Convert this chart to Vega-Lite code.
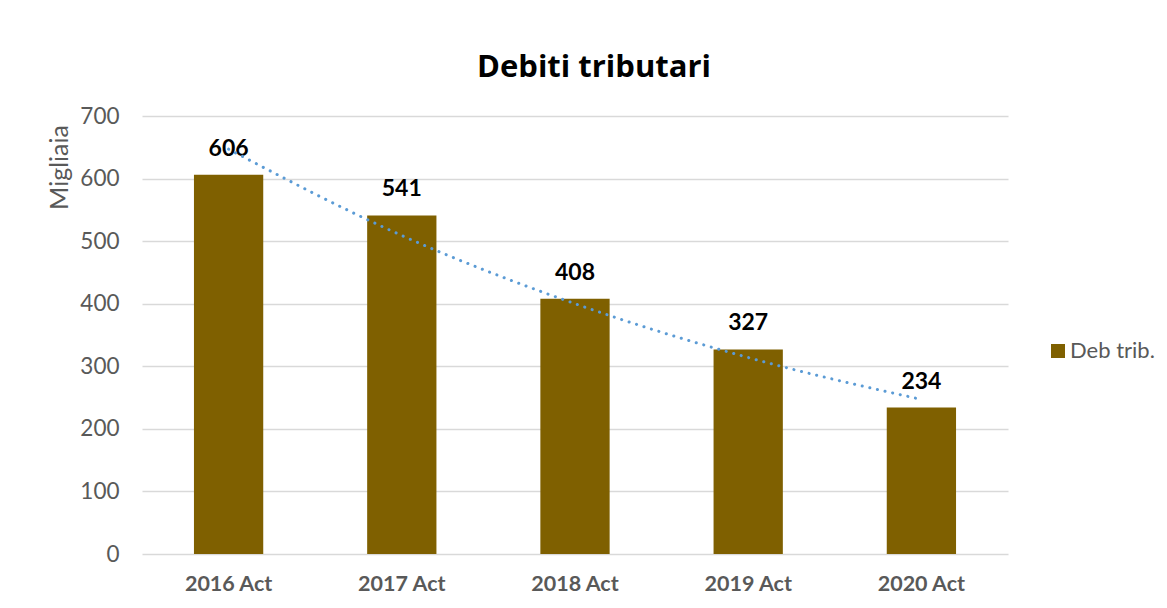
{
  "$schema": "https://vega.github.io/schema/vega-lite/v6.json",
  "width": 866,
  "height": 438,
  "autosize": "none",
  "padding": {"left": 142, "top": 116, "right": 159, "bottom": 54},
  "background": "white",
  "config": {
    "font": "Lato",
    "view": {"stroke": null}
  },
  "title": {
    "text": "Debiti tributari",
    "font": "Open Sans",
    "fontSize": 31,
    "fontWeight": "bold",
    "color": "#000000",
    "anchor": "middle",
    "frame": "group",
    "dx": 19,
    "baseline": "alphabetic",
    "offset": -3
  },
  "data": {
    "values": [
      {"anno": "2016 Act", "valore": 606, "trend": 647, "serie": "Deb trib."},
      {"anno": "2017 Act", "valore": 541, "trend": 509, "serie": "Deb trib."},
      {"anno": "2018 Act", "valore": 408, "trend": 400, "serie": "Deb trib."},
      {"anno": "2019 Act", "valore": 327, "trend": 314, "serie": "Deb trib."},
      {"anno": "2020 Act", "valore": 234, "trend": 247, "serie": "Deb trib."}
    ]
  },
  "encoding": {
    "x": {
      "field": "anno",
      "type": "nominal",
      "sort": null,
      "scale": {"paddingInner": 0.6, "paddingOuter": 0.3},
      "axis": {
        "title": null,
        "labelAngle": 0,
        "labelFontSize": 21.5,
        "labelFontWeight": "bold",
        "labelColor": "#595959",
        "labelPadding": 19,
        "ticks": false,
        "domain": false
      }
    }
  },
  "layer": [
    {
      "mark": {"type": "bar", "color": "#7F6000"},
      "encoding": {
        "y": {
          "field": "valore",
          "type": "quantitative",
          "scale": {"domain": [0, 700]},
          "axis": {
            "values": [0, 100, 200, 300, 400, 500, 600, 700],
            "title": "Migliaia",
            "titleFontSize": 25,
            "titleFontWeight": "normal",
            "titleColor": "#595959",
            "titleAngle": -90,
            "titleX": -83,
            "titleY": 51,
            "titleAlign": "center",
            "titleBaseline": "middle",
            "labelFontSize": 22.5,
            "labelColor": "#595959",
            "labelPadding": 23,
            "ticks": false,
            "domain": false,
            "grid": true,
            "gridColor": "#D9D9D9",
            "gridWidth": 1.5
          }
        },
        "fill": {
          "field": "serie",
          "type": "nominal",
          "scale": {"range": ["#7F6000"]},
          "legend": {
            "title": null,
            "orient": "none",
            "legendX": 905,
            "legendY": 224,
            "symbolType": "square",
            "symbolSize": 196,
            "symbolStrokeWidth": 0,
            "labelFontSize": 22,
            "labelColor": "#595959",
            "labelOffset": 1,
            "padding": 0
          }
        }
      }
    },
    {
      "mark": {"type": "text", "fontSize": 23, "fontWeight": "bold", "color": "#000000", "baseline": "alphabetic", "dy": -19},
      "encoding": {
        "y": {"field": "valore", "type": "quantitative"},
        "text": {"field": "valore", "type": "quantitative"}
      }
    },
    {
      "mark": {"type": "line", "color": "#5B9BD5", "strokeWidth": 3, "strokeDash": [0.1, 7.7], "strokeCap": "round", "interpolate": "monotone"},
      "encoding": {
        "y": {"field": "trend", "type": "quantitative"}
      }
    }
  ]
}
